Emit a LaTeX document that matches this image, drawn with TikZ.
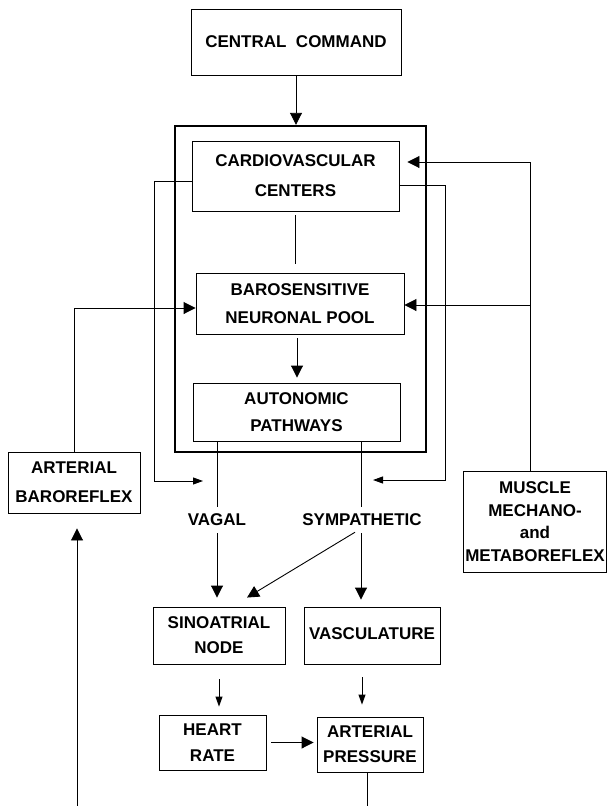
\documentclass[tikz,border=0pt]{standalone}
\usepackage{fontspec}
\setmainfont{Liberation Sans}
\usetikzlibrary{arrows.meta,calc}
\begin{document}
\begin{tikzpicture}[x=1pt,y=-1pt,
  box/.style={draw,line width=0.9pt,align=center,inner sep=0pt,font=\bfseries\fontsize{17}{28}\selectfont},
  lbl/.style={inner sep=7pt,font=\bfseries\fontsize{17}{20}\selectfont},
  conn/.style={line width=0.9pt},
  big/.style={conn,-{Triangle[length=12pt,width=12pt]}},
  small/.style={conn,-{Triangle[length=10pt,width=7pt]}}]
\useasboundingbox (0,0) rectangle (608,806);
% boxes
\node[box,minimum width=210,minimum height=66] (cc) at (296,42) {CENTRAL\ \ COMMAND};
\node[draw,line width=2.4pt,minimum width=251,minimum height=326,inner sep=0pt] (ctr) at (300.5,289) {};
\node[box,minimum width=207,minimum height=70,font=\bfseries\fontsize{17}{30}\selectfont] (cvc) at (295.5,176) {CARDIOVASCULAR\\CENTERS};
\node[box,minimum width=208,minimum height=61] (bnp) at (300,303.5) {BAROSENSITIVE\\NEURONAL POOL};
\node[box,minimum width=207,minimum height=58,font=\bfseries\fontsize{17}{27}\selectfont] (ap) at (296.5,412) {AUTONOMIC\\PATHWAYS};
\node[box,minimum width=132,minimum height=61,font=\bfseries\fontsize{17}{29}\selectfont] (ab) at (74,482.5) {ARTERIAL\\BAROREFLEX};
\node[box,minimum width=143,minimum height=101,font=\bfseries\fontsize{17}{22.5}\selectfont] (mm) at (535,521.5) {MUSCLE\\MECHANO-\\and\\METABOREFLEX};
\node[box,minimum width=132,minimum height=57,font=\bfseries\fontsize{17}{25}\selectfont] (sa) at (219,635.5) {SINOATRIAL\\NODE};
\node[box,minimum width=136,minimum height=57] (vasc) at (372,635.5) {\raisebox{3pt}{VASCULATURE}};
\node[box,minimum width=107,minimum height=55,font=\bfseries\fontsize{17}{26}\selectfont] (hr) at (212.5,742.5) {HEART\\RATE};
\node[box,minimum width=106,minimum height=55,font=\bfseries\fontsize{17}{25}\selectfont] (apr) at (370,744.5) {ARTERIAL\\PRESSURE};
% labels
\node[lbl] (vag) at (217,520) {VAGAL};
\node[lbl] (sym) at (362,520) {SYMPATHETIC};
% coordinates
\coordinate (lv) at (154,481);
\coordinate (lt) at (203,481);
\coordinate (rv) at (445,480);
\coordinate (rt) at (373,480);
\coordinate (mx) at (530,0);
\coordinate (vx) at (217,0);
\coordinate (sx) at (361,0);
\coordinate (bl) at (77,806);
% connectors
\draw[big] (cc.south) -- (cc.south |- ctr.north);
\draw[conn,shorten <=4pt,shorten >=9pt] (cvc.south) -- (cvc.south |- bnp.north);
\draw[big,shorten <=4pt,shorten >=5pt] ($(bnp.south)+(-3,0)$) -- ($(bnp.south |- ap.north)+(-3,0)$);
\draw[small] ($(cvc.west)+(0,5)$) -| (lv) -- (lt);
\draw[small] ($(cvc.east)+(0,9)$) -| (rv) -- (rt);
\draw[big,shorten >=8pt] (mx |- mm.north) |- ($(cvc.east)+(0,-14)$);
\draw[big] (mx |- 0,305) -- (bnp.east |- 0,305);
\draw[big] (ab.north) |- ($(bnp.west)+(0,4.5)$);
\draw[conn] (vx |- ap.south) -- (vx |- vag.north);
\draw[big,shorten >=9pt] (vx |- vag.south) -- (vx |- sa.north);
\draw[conn] (sx |- ap.south) -- (sx |- sym.north);
\draw[big,shorten >=7pt] (sx |- sym.south) -- (sx |- vasc.north);
\draw[big] ($(sym.south)+(-7,-1)$) -- ($(sa.north)+(28,-9)$);
\draw[small,shorten <=15pt,shorten >=8pt] (sa.south) -- (sa.south |- hr.north);
\draw[small,shorten <=13pt,shorten >=12pt] ($(vasc.south)+(-10,0)$) -- ($(vasc.south |- apr.north)+(-10,0)$);
\draw[big,shorten <=5pt,shorten >=3pt] (hr.east) -- (hr.east -| apr.west);
\draw[conn] ($(apr.south)+(-3,0)$) -- ($(apr.south)+(-3,34)$);
\draw[big] (bl) -- ($(bl |- ab.south)+(0,15)$);
\end{tikzpicture}
\end{document}
